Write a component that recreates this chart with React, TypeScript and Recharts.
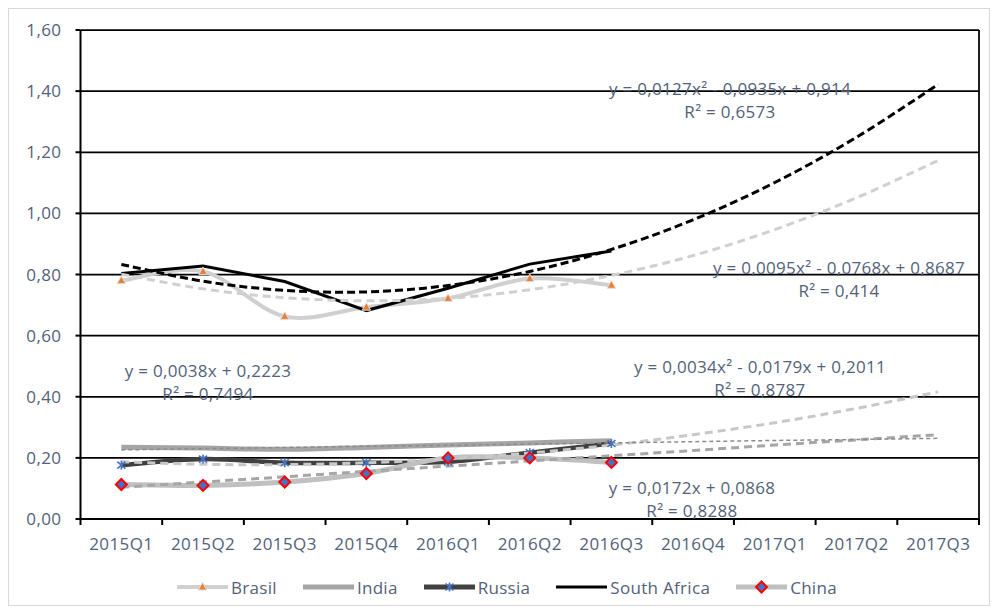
import { CartesianGrid, ComposedChart, Line, XAxis, YAxis } from "recharts"

const categories = ["2015Q1", "2015Q2", "2015Q3", "2015Q4", "2016Q1", "2016Q2", "2016Q3", "2016Q4", "2017Q1", "2017Q2", "2017Q3"]

const brasil = [0.78, 0.81, 0.663, 0.693, 0.722, 0.787, 0.765]
const india = [0.235, 0.232, 0.228, 0.234, 0.242, 0.249, 0.256]
const russia = [0.176, 0.196, 0.184, 0.184, 0.187, 0.217, 0.247]
const southAfrica = [0.803, 0.828, 0.777, 0.682, 0.755, 0.834, 0.877]
const china = [0.113, 0.11, 0.121, 0.149, 0.2, 0.2, 0.185]

// trendlines as drawn, over the full 11 quarters
const brasilTrend = [0.801, 0.753, 0.724, 0.714, 0.722, 0.75, 0.797, 0.862, 0.947, 1.051, 1.173]
const southAfricaTrend = [0.833, 0.778, 0.748, 0.743, 0.764, 0.81, 0.882, 0.979, 1.101, 1.249, 1.422]
const russiaTrend = [0.187, 0.179, 0.178, 0.184, 0.197, 0.216, 0.242, 0.276, 0.315, 0.362, 0.416]
const chinaTrend = [0.104, 0.121, 0.138, 0.156, 0.173, 0.19, 0.207, 0.224, 0.242, 0.259, 0.276]
const indiaTrend = [0.226, 0.23, 0.234, 0.238, 0.241, 0.245, 0.249, 0.253, 0.257, 0.26, 0.264]

const yTicks = [0, 0.2, 0.4, 0.6, 0.8, 1.0, 1.2, 1.4, 1.6]

const equations = [
  { lines: ["y = 0,0127x² - 0,0935x + 0,914", "R² = 0,6573"], x: 721, y: 91 },
  { lines: ["y = 0,0095x² - 0,0768x + 0,8687", "R² = 0,414"], x: 830, y: 270 },
  { lines: ["y = 0,0034x² - 0,0179x + 0,2011", "R² = 0,8787"], x: 751, y: 369 },
  { lines: ["y = 0,0172x + 0,0868", "R² = 0,8288"], x: 683, y: 490 },
  { lines: ["y = 0,0038x + 0,2223", "R² = 0,7494"], x: 199, y: 373 },
]

const data = categories.map((quarter, i) => ({
  quarter,
  brasil: brasil[i] ?? null,
  india: india[i] ?? null,
  russia: russia[i] ?? null,
  southAfrica: southAfrica[i] ?? null,
  china: china[i] ?? null,
  brasilTrend: brasilTrend[i],
  southAfricaTrend: southAfricaTrend[i],
  russiaTrend: russiaTrend[i],
  chinaTrend: chinaTrend[i],
  indiaTrend: indiaTrend[i],
}))

const FONT = '"Open Sans", sans-serif'
const TEXT = "#53627a"
const HALF_BAND = 40.85

// Excel-style smoothed line (Catmull-Rom through the points)
function smooth(context: any) {
  let pts: number[][] = []
  return {
    areaStart() {},
    areaEnd() {},
    lineStart() {
      pts = []
    },
    point(x: number, y: number) {
      pts.push([+x, +y])
    },
    lineEnd() {
      if (!pts.length) return
      context.moveTo(pts[0][0], pts[0][1])
      for (let i = 0; i < pts.length - 1; i++) {
        const p0 = pts[i - 1] ?? pts[i]
        const p1 = pts[i]
        const p2 = pts[i + 1]
        const p3 = pts[i + 2] ?? p2
        context.bezierCurveTo(
          p1[0] + (p2[0] - p0[0]) / 6,
          p1[1] + (p2[1] - p0[1]) / 6,
          p2[0] - (p3[0] - p1[0]) / 6,
          p2[1] - (p3[1] - p1[1]) / 6,
          p2[0],
          p2[1]
        )
      }
    },
  }
}

function triangle(cx: number, cy: number, key?: string) {
  return <path key={key} d={`M${cx},${cy - 4.5} L${cx + 4.2},${cy + 3} L${cx - 4.2},${cy + 3} Z`} fill="#ed7d31" stroke="#dcdcdc" strokeWidth={1} />
}

function star(cx: number, cy: number, key?: string) {
  return (
    <g key={key} stroke="#4472c4" strokeWidth={1.6}>
      <line x1={cx} y1={cy - 4.5} x2={cx} y2={cy + 4.5} />
      <line x1={cx - 4} y1={cy - 3.5} x2={cx + 4} y2={cy + 3.5} />
      <line x1={cx - 4} y1={cy + 3.5} x2={cx + 4} y2={cy - 3.5} />
    </g>
  )
}

function diamond(cx: number, cy: number, key?: string) {
  return <path key={key} d={`M${cx},${cy - 5.5} L${cx + 5.5},${cy} L${cx},${cy + 5.5} L${cx - 5.5},${cy} Z`} fill="#4472c4" stroke="#ff0000" strokeWidth={2} />
}

function markerDot(draw: typeof triangle) {
  return (props: any) => {
    const { cx, cy, index, value } = props
    if (cx == null || cy == null || value == null) return <g key={`e-${index}`} />
    return draw(cx, cy, `m-${index}`)
  }
}

function QuarterTick({ x, y, payload, index }: any) {
  return (
    <g>
      <line x1={x - HALF_BAND} y1={y} x2={x - HALF_BAND} y2={y + 6} stroke="#000" strokeWidth={2} />
      {index === categories.length - 1 && <line x1={x + HALF_BAND} y1={y} x2={x + HALF_BAND} y2={y + 6} stroke="#000" strokeWidth={2} />}
      <text x={x} y={y + 25} dy="0.355em" textAnchor="middle" fill={TEXT} fontSize={17} fontFamily={FONT} style={{ letterSpacing: 0.4 }}>
        {payload.value}
      </text>
    </g>
  )
}

const legendItems = [
  { name: "Brasil", color: "#d0d0d0", width: 4, marker: triangle },
  { name: "India", color: "#a5a5a5", width: 5, marker: null },
  { name: "Russia", color: "#404040", width: 5, marker: star },
  { name: "South Africa", color: "#000000", width: 3, marker: null },
  { name: "China", color: "#c0c0c0", width: 5, marker: diamond },
]

export default function App() {
  return (
    <div style={{ position: "relative", width: 982, height: 598, border: "1px solid #d9d9d9", boxSizing: "border-box", fontFamily: FONT, background: "#fff" }}>
      <ComposedChart data={data} height={596} margin={{ top: 21, right: 10, bottom: 56, left: 11.5 }} width={980}>
        <CartesianGrid
          horizontal
          stroke="#000"
          strokeWidth={1.75}
          vertical
          verticalCoordinatesGenerator={({ offset }: any) => [offset.left + offset.width]}
        />
        <XAxis
          axisLine={{ stroke: "#000", strokeWidth: 2 }}
          dataKey="quarter"
          height={30}
          interval={0}
          padding={{ left: HALF_BAND, right: HALF_BAND }}
          tick={<QuarterTick />}
          tickLine={false}
          tickMargin={0}
          tickSize={0}
        />
        <YAxis
          axisLine={{ stroke: "#000", strokeWidth: 2 }}
          domain={[0, 1.6]}
          tick={{ fill: TEXT, fontSize: 17, fontFamily: FONT, letterSpacing: 0.4 }}
          tickFormatter={(v: number) => v.toFixed(2).replace(".", ",")}
          tickLine={{ stroke: "#000", strokeWidth: 2 }}
          tickMargin={14}
          tickSize={5}
          ticks={yTicks}
          width={60}
        />
        <Line activeDot={false} dataKey="brasil" dot={markerDot(triangle)} isAnimationActive={false} stroke="#d0d0d0" strokeWidth={4} type={smooth as any} />
        <Line activeDot={false} dataKey="india" dot={false} isAnimationActive={false} stroke="#a5a5a5" strokeWidth={5} type={smooth as any} />
        <Line activeDot={false} dataKey="russia" dot={markerDot(star)} isAnimationActive={false} stroke="#404040" strokeWidth={4.5} type={smooth as any} />
        <Line activeDot={false} dataKey="southAfrica" dot={false} isAnimationActive={false} stroke="#000" strokeWidth={3} type="linear" />
        <Line activeDot={false} dataKey="china" dot={markerDot(diamond)} isAnimationActive={false} stroke="#c0c0c0" strokeWidth={5} type={smooth as any} />
        <Line activeDot={false} dataKey="brasilTrend" dot={false} isAnimationActive={false} stroke="#d0d0d0" strokeDasharray="8 5" strokeWidth={3} type={smooth as any} />
        <Line activeDot={false} dataKey="southAfricaTrend" dot={false} isAnimationActive={false} stroke="#000" strokeDasharray="8 4" strokeWidth={3} type={smooth as any} />
        <Line activeDot={false} dataKey="russiaTrend" dot={false} isAnimationActive={false} stroke="#c8c8c8" strokeDasharray="8 5" strokeWidth={3} type={smooth as any} />
        <Line activeDot={false} dataKey="chinaTrend" dot={false} isAnimationActive={false} stroke="#a6a6a6" strokeDasharray="8 5" strokeWidth={3} type="linear" />
        <Line activeDot={false} dataKey="indiaTrend" dot={false} isAnimationActive={false} stroke="#8c8c8c" strokeDasharray="4 3" strokeWidth={1.5} type="linear" />
      </ComposedChart>

      {equations.map((eq) => (
        <div key={eq.lines[0]} style={{ position: "absolute", left: eq.x, top: eq.y, transform: "translate(-50%, -50%)", textAlign: "center", color: TEXT, fontSize: 17, lineHeight: "23px", whiteSpace: "nowrap", letterSpacing: 0.3 }}>
          {eq.lines.map((l) => (
            <div key={l}>{l}</div>
          ))}
        </div>
      ))}

      <div style={{ position: "absolute", left: 168, top: 567, height: 22, display: "flex", alignItems: "center", color: TEXT, fontSize: 17, letterSpacing: 0.3 }}>
        {legendItems.map((item) => (
          <div key={item.name} style={{ display: "flex", alignItems: "center", marginRight: 26 }}>
            <svg height={14} width={51}>
              <line stroke={item.color} strokeWidth={item.width} x1={0} x2={51} y1={7} y2={7} />
              {item.marker && item.marker(25.5, 7)}
            </svg>
            <span style={{ marginLeft: 3 }}>{item.name}</span>
          </div>
        ))}
      </div>
    </div>
  )
}
